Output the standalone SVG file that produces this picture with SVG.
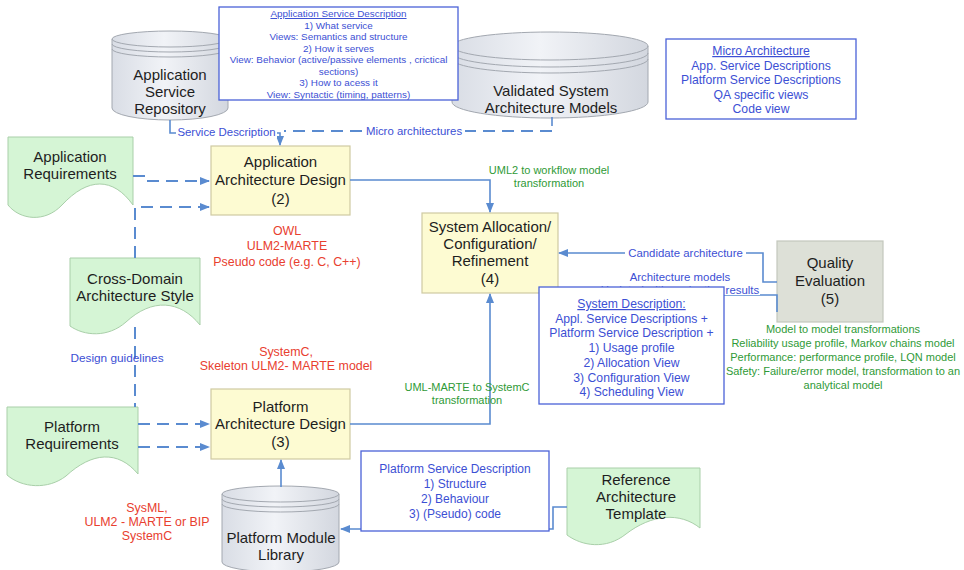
<svg xmlns="http://www.w3.org/2000/svg" width="964" height="570" viewBox="0 0 964 570">
  <defs>
    <linearGradient id="cylFill" x1="0" y1="0" x2="1" y2="0">
      <stop offset="0" stop-color="#d9dde5"/>
      <stop offset="0.45" stop-color="#f1f3f7"/>
      <stop offset="1" stop-color="#d3d7df"/>
    </linearGradient>
    <marker id="arrow" markerWidth="10" markerHeight="8" refX="9" refY="4" orient="auto" markerUnits="userSpaceOnUse">
      <path d="M0,0 L10,4 L0,8 Z" fill="#5a8bd0"/>
    </marker>
    <style>
      .node { font-family: "Liberation Sans", Arial, sans-serif; font-size: 15px; fill: #1e1e1e; text-anchor: middle; }
      .cyl { fill: url(#cylFill); stroke: #a3a8b0; stroke-width: 1; }
      .ring { fill: none; stroke: #a3a8b0; stroke-width: 1; }
      .doc { fill: #d5f5d5; stroke: #a9cfa9; stroke-width: 1; }
      .proc { fill: #fdfbd2; stroke: #cfcaa2; stroke-width: 1.2; }
      .qa { fill: #dde0d7; stroke: #c3c7bd; stroke-width: 1.2; }
      .note { fill: #ffffff; stroke: #4b62d8; stroke-width: 1.3; }
      .blue { font-family: "Liberation Sans", Arial, sans-serif; fill: #3c4fd4; text-anchor: middle; }
      .red { font-family: "Liberation Sans", Arial, sans-serif; font-size: 12.4px; fill: #e8402f; text-anchor: middle; }
      .green { font-family: "Liberation Sans", Arial, sans-serif; font-size: 11px; fill: #2f9a37; text-anchor: middle; }
      .line { fill: none; stroke: #5a8bd0; stroke-width: 1.6; }
      .dash { fill: none; stroke: #5a8bd0; stroke-width: 2; stroke-dasharray: 12 7; }
      .lbg { fill: #ffffff; }
    </style>
  </defs>

  <rect x="0" y="0" width="964" height="570" fill="#ffffff"/>

  <!-- repositories -->
  <g id="app-service-repository">
    <path class="cyl" d="M112,39 A58,8 0 0 1 228,39 V108 A58,12 0 0 1 112,108 Z"/>
    <path class="ring" d="M112,39 A58,8 0 0 0 228,39 M112,44 A58,8 0 0 0 228,44 M112,49 A58,8 0 0 0 228,49"/>
    <text class="node" x="170" y="79.5">Application</text>
    <text class="node" x="170" y="96.5">Service</text>
    <text class="node" x="170" y="113.5">Repository</text>
  </g>

  <g id="validated-models">
    <path class="cyl" d="M452,46 A98,14 0 0 1 648,46 V102 A98,16 0 0 1 452,102 Z"/>
    <path class="ring" d="M452,46 A98,14 0 0 0 648,46 M452,53 A98,14 0 0 0 648,53 M452,59 A98,14 0 0 0 648,59"/>
    <text class="node" x="551" y="96">Validated System</text>
    <text class="node" x="551" y="113">Architecture Models</text>
  </g>

  <g id="app-service-description">
    <rect class="note" x="219" y="7" width="239" height="93"/>
    <g class="blue" font-size="9.9">
      <text x="338.5" y="17" text-decoration="underline">Application Service Description</text>
      <text x="338.5" y="28.5">1) What service</text>
      <text x="338.5" y="40">Views: Semantics and structure</text>
      <text x="338.5" y="51.5">2) How it serves</text>
      <text x="338.5" y="63">View: Behavior (active/passive elements , crictical</text>
      <text x="338.5" y="74.5">sections)</text>
      <text x="338.5" y="86">3) How to acess it</text>
      <text x="338.5" y="97.5">View: Syntactic (timing, patterns)</text>
    </g>
  </g>

  <g id="micro-architecture">
    <rect class="note" x="666" y="39" width="190" height="80"/>
    <g class="blue" font-size="12.2">
      <text x="761" y="55" text-decoration="underline">Micro  Architecture</text>
      <text x="761" y="69.5">App. Service Descriptions</text>
      <text x="761" y="84">Platform Service Descriptions</text>
      <text x="761" y="98.5">QA specific views</text>
      <text x="761" y="113">Code view</text>
    </g>
  </g>

  <!-- requirement documents -->
  <g id="app-requirements">
    <path class="doc" d="M8,137 H133 V205 C113,177 88,177 62,205 C45,223 20,220 8,205 Z"/>
    <text class="node" x="70" y="162">Application</text>
    <text class="node" x="70" y="179">Requirements</text>
  </g>

  <g id="cross-domain-style">
    <path class="doc" d="M70,258 H200 V325 C180,300 152,298 126,322 C108,338 84,336 70,326 Z"/>
    <text class="node" x="135" y="284">Cross-Domain</text>
    <text class="node" x="135" y="301">Architecture Style</text>
  </g>

  <g id="platform-requirements">
    <path class="doc" d="M7,407 H138 V474 C118,450 92,452 66,476 C48,490 22,488 7,475 Z"/>
    <text class="node" x="72" y="432">Platform</text>
    <text class="node" x="72" y="449">Requirements</text>
  </g>

  <g id="reference-template">
    <path class="doc" d="M567,468 H700 V528 C680,512 652,514 626,534 C606,550 582,546 567,535 Z"/>
    <text class="node" x="636" y="485">Reference</text>
    <text class="node" x="636" y="502">Architecture</text>
    <text class="node" x="636" y="519">Template</text>
  </g>

  <!-- design steps -->
  <g id="app-architecture-design">
    <rect class="proc" x="211" y="146" width="139" height="69"/>
    <text class="node" x="280.5" y="167">Application</text>
    <text class="node" x="280.5" y="185">Architecture Design</text>
    <text class="node" x="280.5" y="204">(2)</text>
  </g>

  <g id="system-allocation">
    <rect class="proc" x="422" y="213" width="136" height="80"/>
    <text class="node" x="490" y="232">System Allocation/</text>
    <text class="node" x="490" y="249">Configuration/</text>
    <text class="node" x="490" y="266">Refinement</text>
    <text class="node" x="490" y="284">(4)</text>
  </g>

  <g id="platform-architecture-design">
    <rect class="proc" x="211" y="389" width="139" height="70"/>
    <text class="node" x="280.5" y="412">Platform</text>
    <text class="node" x="280.5" y="429">Architecture Design</text>
    <text class="node" x="280.5" y="447">(3)</text>
  </g>

  <g id="quality-evaluation">
    <rect class="qa" x="777" y="241" width="106" height="81"/>
    <text class="node" x="830" y="268">Quality</text>
    <text class="node" x="830" y="286">Evaluation</text>
    <text class="node" x="830" y="304">(5)</text>
  </g>

  <g id="platform-module-library">
    <path class="cyl" d="M222,494 A58.5,8 0 0 1 339,494 V562 A58.5,10 0 0 1 222,562 Z"/>
    <path class="ring" d="M222,494 A58.5,8 0 0 0 339,494 M222,499 A58.5,8 0 0 0 339,499 M222,504 A58.5,8 0 0 0 339,504"/>
    <text class="node" x="281" y="543">Platform Module</text>
    <text class="node" x="281" y="560">Library</text>
  </g>

  <!-- connectors -->
  <g id="connectors">
    <path class="line" d="M170,120 V133 H280 V145" marker-end="url(#arrow)"/>
    <path class="line" d="M552,117 V126"/>
    <path class="dash" d="M552,131 H284"/>
    <path class="dash" d="M133,176 H146 V181 H209" marker-end="url(#arrow)"/>
    <path class="dash" d="M135,258 V207 H209" marker-end="url(#arrow)"/>
    <path class="dash" d="M135,327 V407"/>
    <path class="dash" d="M138,424 H209" marker-end="url(#arrow)"/>
    <path class="dash" d="M138,447 H209" marker-end="url(#arrow)"/>
    <path class="line" d="M350,180 H490 V212" marker-end="url(#arrow)"/>
    <path class="line" d="M350,424 H490 V294" marker-end="url(#arrow)"/>
    <path class="line" d="M281,487 V460" marker-end="url(#arrow)"/>
    <path class="line" d="M777,282 H763 V253 H559" marker-end="url(#arrow)"/>
    <path class="line" d="M700,295 H777 V312"/>
    <path class="line" d="M567,507 H553 V529 H341" marker-end="url(#arrow)"/>
  </g>

  <!-- connector labels -->
  <g id="connector-labels">
    <rect class="lbg" x="176" y="125" width="101" height="13"/>
    <text class="blue" font-size="11.4" x="226.5" y="136">Service Description</text>
    <rect class="lbg" x="363" y="124" width="102" height="13"/>
    <text class="blue" font-size="11.4" x="414" y="135">Micro architectures</text>
    <text class="blue" font-size="11.8" x="117" y="362">Design guidelines</text>
    <rect class="lbg" x="625" y="247" width="121" height="13"/>
    <text class="blue" font-size="11.4" x="685.5" y="257">Candidate architecture</text>
    <text class="blue" font-size="11.4" x="680" y="281">Architecture models</text>
    <rect class="lbg" x="596" y="284" width="164" height="11"/>
    <text class="blue" font-size="11.4" x="680" y="293.5">Updated with evaluation results</text>
    <g class="green">
      <text x="549" y="174">UML2 to workflow model</text>
      <text x="549" y="187">transformation</text>
      <text x="467" y="391">UML-MARTE to SystemC</text>
      <text x="467" y="404">transformation</text>
    </g>
    <g class="green" font-size="11.3">
      <text x="843" y="333">Model to model transformations</text>
      <text x="843" y="347">Reliability usage profile, Markov chains model</text>
      <text x="843" y="361">Performance: performance profile, LQN model</text>
      <text x="843" y="375">Safety: Failure/error model, transformation to an</text>
      <text x="843" y="389">analytical model</text>
    </g>
    <g class="red">
      <text x="287" y="235">OWL</text>
      <text x="287" y="250">ULM2-MARTE</text>
      <text x="287" y="266">Pseudo code (e.g. C, C++)</text>
      <text x="286" y="356">SystemC,</text>
      <text x="286" y="370">Skeleton ULM2- MARTE model</text>
      <text x="147" y="512">SysML,</text>
      <text x="147" y="526">ULM2 - MARTE or BIP</text>
      <text x="147" y="540">SystemC</text>
    </g>
  </g>

  <!-- description notes drawn over the routes -->
  <g id="system-description">
    <rect class="note" x="539" y="287" width="185" height="117"/>
    <g class="blue" font-size="12.2">
      <text x="631.5" y="308" text-decoration="underline">System Description:</text>
      <text x="631.5" y="322.7">Appl. Service Descriptions +</text>
      <text x="631.5" y="337.4">Platform Service Description +</text>
      <text x="631.5" y="352.1">1) Usage profile</text>
      <text x="631.5" y="366.8">2) Allocation View</text>
      <text x="631.5" y="381.5">3) Configuration View</text>
      <text x="631.5" y="396.2">4) Scheduling View</text>
    </g>
  </g>

  <g id="platform-service-description">
    <rect class="note" x="361" y="451" width="188" height="80"/>
    <g class="blue" font-size="12">
      <text x="455" y="473">Platform Service Description</text>
      <text x="455" y="488">1) Structure</text>
      <text x="455" y="503">2) Behaviour</text>
      <text x="455" y="518">3) (Pseudo)  code</text>
    </g>
  </g>
</svg>
